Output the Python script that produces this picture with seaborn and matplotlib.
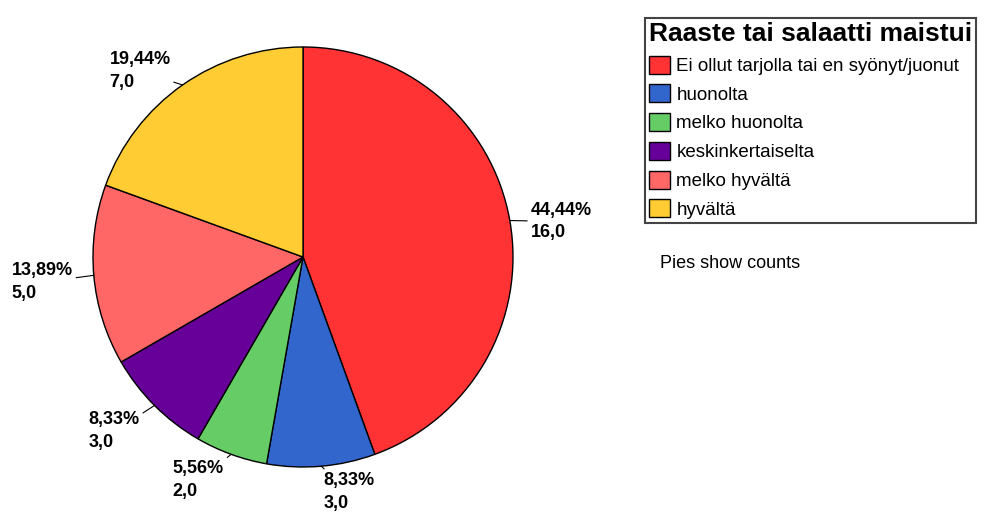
import numpy as np
import matplotlib
matplotlib.use("Agg")
import matplotlib.pyplot as plt
import seaborn as sns

# Survey answers: how the grated vegetables / salad tasted
categories = [
    "Ei ollut tarjolla tai en syönyt/juonut",
    "huonolta",
    "melko huonolta",
    "keskinkertaiselta",
    "melko hyvältä",
    "hyvältä",
]
counts = [16, 3, 2, 3, 5, 7]
colors = ["#FF3333", "#3366CC", "#66CC66", "#660099", "#FF6666", "#FFCC33"]
legend_title = "Raaste tai salaatti maistui"
note = "Pies show counts"

sns.set_theme(style="white")
plt.rcParams["font.family"] = ["Liberation Sans", "DejaVu Sans"]
plt.rcParams["text.color"] = "black"

W, H = 987, 516
fig = plt.figure(figsize=(W / 100, H / 100), dpi=100)
# square axes centred on the pie; radius 1 in data units = 210 px
half = 250
cx, cy = 303, 257
ax = fig.add_axes([(cx - half) / W, (H - cy - half) / H, 2 * half / W, 2 * half / H])

wedges, _ = ax.pie(
    counts,
    colors=sns.color_palette(colors),
    startangle=90,
    counterclock=False,
    radius=1.0,
    wedgeprops=dict(edgecolor="black", linewidth=1.0),
)
lim = half / 210
ax.set_xlim(-lim, lim)
ax.set_ylim(-lim, lim)
ax.set_aspect("equal")
ax.axis("off")

# value labels: percentage and count, joined to the rim by a short leader
total = sum(counts)
for w, n in zip(wedges, counts):
    ang = np.deg2rad((w.theta1 + w.theta2) / 2)
    c, s = np.cos(ang), np.sin(ang)
    pct = f"{100 * n / total:.2f}".replace(".", ",") + "%"
    lab = f"{pct}\n" + f"{n:.1f}".replace(".", ",")
    ha = "left" if c > 0 else "right"
    if s < -0.5:
        va, dy = "top", -6
    elif s > 0.5:
        va, dy = "bottom", -6
    else:
        va, dy = "center", (-1 if c > 0 else -7)
    ax.annotate(
        lab, xy=(c, s), xytext=(21 * c, dy), textcoords="offset pixels",
        ha=ha, va=va, multialignment="left",
        fontsize=13, fontweight="bold", linespacing=1.45, color="black",
        arrowprops=dict(arrowstyle="-", color="black", lw=0.8,
                        shrinkA=0, shrinkB=0),
    )

leg = fig.legend(
    wedges, categories,
    title=legend_title,
    loc="upper left",
    bbox_to_anchor=(645 / W, 1 - 18 / H),
    bbox_transform=fig.transFigure,
    frameon=True, fancybox=False, shadow=False,
    fontsize=13.5,
    title_fontproperties={"weight": "bold", "size": 19},
    alignment="left",
    handlelength=1.1, handleheight=1.1, handletextpad=0.35,
    labelspacing=0.5, borderpad=0.22, borderaxespad=0,
)
leg.get_frame().set_edgecolor("#444444")
leg.get_frame().set_linewidth(1.5)
leg.get_frame().set_alpha(1)
leg.get_title().set_color("black")
for t in leg.get_texts():
    t.set_color("black")

fig.text(660 / W, 1 - 264 / H, note, ha="left", va="center", fontsize=13)

fig.savefig("out.png", dpi=100, facecolor="white")
